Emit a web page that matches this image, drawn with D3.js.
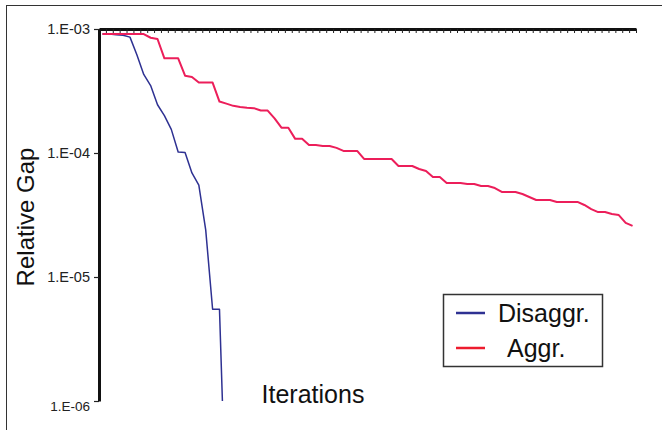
<!DOCTYPE html>
<html>
<head>
<meta charset="utf-8">
<script src="https://cdn.jsdelivr.net/npm/d3@7"></script>
<style>
  body { margin: 0; background: #fff; }
  svg { display: block; font-family: "Liberation Sans", Arial, sans-serif; }
</style>
</head>
<body>
<div id="chart"></div>
<script>
const width = 662
const height = 430

// relative gap per iteration
const disaggr = [
  9.1e-4, 9.1e-4, 9.0e-4, 8.9e-4, 8.6e-4, 6.2e-4, 4.3e-4, 3.5e-4, 2.45e-4, 2.0e-4,
  1.55e-4, 1.02e-4, 1.01e-4, 6.9e-5, 5.5e-5, 2.4e-5, 5.5e-6, 5.5e-6, 1e-7
]
const aggr = [
  9.1e-4, 9.1e-4, 9.1e-4, 9.1e-4, 9.1e-4, 9.1e-4, 9.1e-4, 8.5e-4, 8.3e-4, 5.8e-4,
  5.8e-4, 5.8e-4, 4.2e-4, 4.1e-4, 3.7e-4, 3.7e-4, 3.7e-4, 2.6e-4, 2.5e-4, 2.4e-4,
  2.35e-4, 2.32e-4, 2.3e-4, 2.2e-4, 2.2e-4, 1.9e-4, 1.6e-4, 1.6e-4, 1.3e-4, 1.3e-4,
  1.16e-4, 1.16e-4, 1.14e-4, 1.14e-4, 1.1e-4, 1.04e-4, 1.04e-4, 1.04e-4, 8.95e-5, 8.95e-5,
  8.95e-5, 8.95e-5, 8.95e-5, 7.86e-5, 7.86e-5, 7.86e-5, 7.43e-5, 7.16e-5, 6.4e-5, 6.4e-5,
  5.73e-5, 5.73e-5, 5.73e-5, 5.62e-5, 5.62e-5, 5.42e-5, 5.42e-5, 5.22e-5, 4.85e-5, 4.85e-5,
  4.85e-5, 4.67e-5, 4.42e-5, 4.18e-5, 4.18e-5, 4.18e-5, 4.03e-5, 4.03e-5, 4.03e-5, 4.03e-5,
  3.81e-5, 3.53e-5, 3.34e-5, 3.34e-5, 3.22e-5, 3.16e-5, 2.73e-5, 2.58e-5
]
const nIter = 78
const yTicks = [1e-3, 1e-4, 1e-5, 1e-6]
const yTickLabels = ["1.E-03", "1.E-04", "1.E-05", "1.E-06"]

const series = [
  { name: "Disaggr.", values: disaggr, color: "#2e3192", legendColor: "#2e3192", width: 1.5 },
  { name: "Aggr.", values: aggr, color: "#ec1e5a", legendColor: "#ed1c2e", width: 2 }
]

const plot = { left: 99, right: 636, top: 29, bottom: 401 }

const svg = d3.select("#chart").append("svg")
  .attr("width", width)
  .attr("height", height)

/* outer frame, runs off the bottom and right like the original */
svg.append("rect")
  .attr("x", 6.5).attr("y", 5.5)
  .attr("width", 700).attr("height", 500)
  .attr("fill", "none")
  .attr("stroke", "#333")
  .attr("stroke-width", 1)

const x = d3.scaleLinear().domain([0, nIter]).range([plot.left, plot.right])
const y = d3.scaleLog().domain([1e-3, 1e-6]).range([plot.top, plot.bottom])

svg.append("clipPath").attr("id", "plotclip")
  .append("rect")
  .attr("x", plot.left).attr("y", plot.top)
  .attr("width", plot.right - plot.left)
  .attr("height", plot.bottom - plot.top)

/* lines */
const line = d3.line()
  .x((d, i) => x(i + 0.5))
  .y(d => y(d))

svg.append("g")
  .attr("clip-path", "url(#plotclip)")
  .selectAll("path")
  .data(series)
  .join("path")
  .attr("fill", "none")
  .attr("stroke", d => d.color)
  .attr("stroke-width", d => d.width)
  .attr("stroke-linejoin", "round")
  .attr("d", d => line(d.values))

/* category axis on top, ticks pointing down */
const xAxis = svg.append("g")
  .attr("transform", `translate(0,${plot.top})`)
  .call(d3.axisBottom(x).tickValues(d3.range(nIter + 1)).tickSize(4).tickSizeOuter(0).tickFormat(""))
xAxis.select(".domain").attr("stroke", "#111").attr("stroke-width", 3)
xAxis.selectAll(".tick line").attr("stroke", "#222").attr("stroke-width", 1)

/* log axis */
const yAxis = svg.append("g")
  .attr("transform", `translate(${plot.left},0)`)
  .call(d3.axisLeft(y).tickValues(yTicks).tickSize(5).tickSizeOuter(0)
    .tickFormat((d, i) => yTickLabels[i]))
yAxis.select(".domain").attr("stroke", "#111").attr("stroke-width", 3)
yAxis.selectAll(".tick line").attr("stroke", "#222").attr("stroke-width", 1.2)
yAxis.selectAll(".tick text")
  .attr("x", -9)
  .attr("fill", "#222")
  .style("font-size", (d, i) => i === 3 ? "13.5px" : "14.5px")
  .attr("dy", (d, i) => i === 3 ? "0.7em" : "0.32em")

/* axis titles */
svg.append("text")
  .attr("transform", `translate(34,${(plot.top + plot.bottom) / 2 + 2}) rotate(-90)`)
  .attr("text-anchor", "middle")
  .attr("fill", "#111")
  .style("font-size", "24px")
  .text("Relative Gap")

svg.append("text")
  .attr("x", 313).attr("y", 403)
  .attr("text-anchor", "middle")
  .attr("fill", "#111")
  .style("font-size", "25px")
  .text("Iterations")

/* legend */
svg.append("rect")
  .attr("x", 443.5).attr("y", 294.5)
  .attr("width", 159).attr("height", 72)
  .attr("fill", "#fff")
  .attr("stroke", "#333")
  .attr("stroke-width", 1.5)

const legendRows = [
  { s: series[0], ly: 313, tx: 498, ty: 322 },
  { s: series[1], ly: 348, tx: 507, ty: 356.5 }
]
legendRows.forEach(r => {
  svg.append("line")
    .attr("x1", 456).attr("x2", 485)
    .attr("y1", r.ly).attr("y2", r.ly)
    .attr("stroke", r.s.legendColor)
    .attr("stroke-width", 2.5)
  svg.append("text")
    .attr("x", r.tx).attr("y", r.ty)
    .attr("fill", "#111")
    .style("font-size", "25px")
    .text(r.s.name)
})
</script>
</body>
</html>
